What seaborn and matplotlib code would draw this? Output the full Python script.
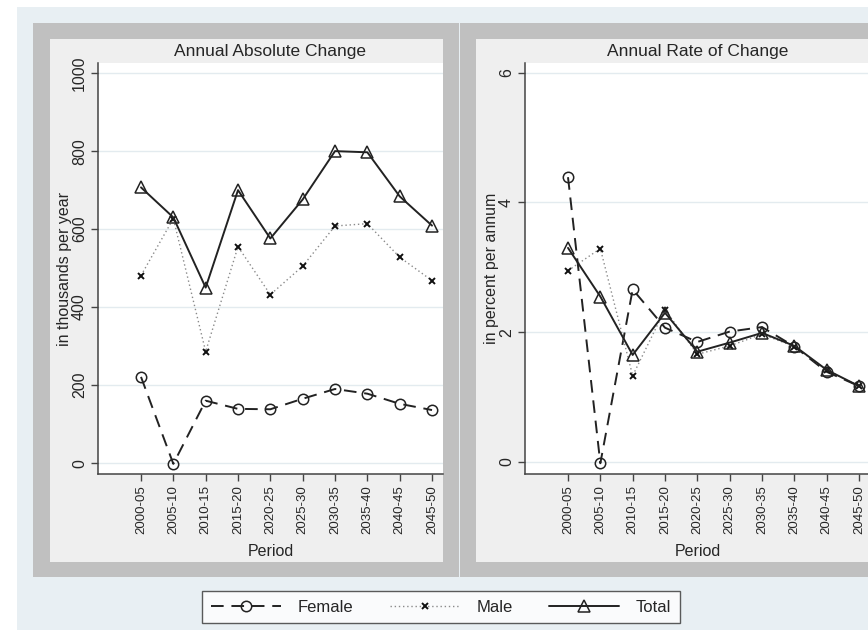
import matplotlib
matplotlib.use("Agg")
import matplotlib.pyplot as plt
from matplotlib.patches import Rectangle
from matplotlib.lines import Line2D
import seaborn as sns
import pandas as pd

periods = ['2000-05', '2005-10', '2010-15', '2015-20', '2020-25',
           '2025-30', '2030-35', '2035-40', '2040-45', '2045-50']

# annual absolute change, thousands per year
abs_female = [221, -2, 160, 139, 138, 165, 190, 178, 152, 136]
abs_male = [481, 627, 286, 555, 432, 505, 608, 614, 528, 468]
abs_total = [707, 630, 450, 700, 576, 676, 800, 797, 684, 609]

# annual rate of change, percent per annum
rate_female = [4.39, -0.02, 2.66, 2.07, 1.85, 2.01, 2.08, 1.78, 1.39, 1.17]
rate_male = [2.95, 3.29, 1.33, 2.35, 1.66, 1.79, 1.97, 1.78, 1.42, 1.17]
rate_total = [3.30, 2.55, 1.65, 2.30, 1.70, 1.84, 1.99, 1.79, 1.42, 1.17]

sns.set_style("white")
plt.rcParams['font.family'] = ['Liberation Sans', 'DejaVu Sans']

W, H = 868, 630
fig = plt.figure(figsize=(W / 100, H / 100), dpi=100)


def px_rect(x0, y0, x1, y1, color, z=-10):
    r = Rectangle((x0 / W, 1 - y1 / H), (x1 - x0) / W, (y1 - y0) / H,
                  transform=fig.transFigure, facecolor=color,
                  edgecolor='none', zorder=z)
    fig.add_artist(r)


# Stata-like graph regions
px_rect(17, 7, 868, 630, '#e8eff3', -20)
px_rect(33, 23, 459, 577, '#c0c0c0')
px_rect(460, 23, 890, 577, '#c0c0c0')
px_rect(50, 39, 443, 562, '#efefef', -5)
px_rect(476, 39, 890, 562, '#efefef', -5)

styles = {
    'Female': dict(color='#222222', linestyle=(0, (6.5, 4)), linewidth=1.4,
                   marker='o', markersize=7.5, mfc='none', mec='#222222', mew=1.1),
    'Male': dict(color='#8a8a8a', linestyle=(0, (1, 2)), linewidth=1.0,
                 marker='x', markersize=5, mec='#111111', mew=1.4),
    'Total': dict(color='#222222', linestyle='-', linewidth=1.4,
                  marker='^', markersize=8.5, mfc='none', mec='#222222', mew=1.1),
}

panels = [
    ('Annual Absolute Change', 'in thousands per year',
     {'Female': abs_female, 'Male': abs_male, 'Total': abs_total},
     [0, 200, 400, 600, 800, 1000], (-28, 1026), 98),
    ('Annual Rate of Change', 'in percent per annum',
     {'Female': rate_female, 'Male': rate_male, 'Total': rate_total},
     [0, 2, 4, 6], (-0.185, 6.15), 525),
]

x_idx = list(range(len(periods)))
for title, ylabel, series, yticks, ylim, left_px in panels:
    ax = fig.add_axes([left_px / W, 1 - 474 / H, 345 / W, 411 / H])
    ax.set_facecolor('white')
    for name, vals in series.items():
        df = pd.DataFrame({'x': x_idx, 'y': vals})
        sns.lineplot(data=df, x='x', y='y', ax=ax, **styles[name])
    ax.set_xlim(-1.33, 9.34)
    ax.set_ylim(*ylim)
    ax.set_yticks(yticks)
    ax.set_yticklabels([str(t) for t in yticks], rotation=90, va='center', fontsize=11.5)
    ax.set_xticks(x_idx)
    ax.set_xticklabels(periods, rotation=90, fontsize=9.5)
    ax.grid(axis='y', color='#e3ebef', linewidth=1.0)
    ax.set_axisbelow(True)
    for s in ['top', 'right']:
        ax.spines[s].set_visible(False)
    for s in ['left', 'bottom']:
        ax.spines[s].set_color('#444444')
        ax.spines[s].set_linewidth(1.1)
    ax.tick_params(axis='both', direction='out', length=5, width=1,
                   color='#444444', left=True, bottom=True, pad=3)
    ax.set_title(title, fontsize=12.5, pad=5)
    ax.set_ylabel(ylabel, fontsize=11.5, labelpad=0)
    ax.set_xlabel('Period', fontsize=11.5, labelpad=7)

handles = [Line2D([], [], **styles[n]) for n in ['Female', 'Male', 'Total']]
leg = fig.legend(handles, ['Female', 'Male', 'Total'], loc='center',
                 bbox_to_anchor=(441 / W, 1 - 607 / H), ncol=3, fontsize=12,
                 frameon=True, fancybox=False, edgecolor='#333333',
                 handlelength=4.2, columnspacing=2.2, handletextpad=1.0,
                 borderpad=0.5, markerscale=1.0)
leg.get_frame().set_linewidth(1.0)
leg.get_frame().set_facecolor('white')

fig.savefig('out.png', dpi=100)
